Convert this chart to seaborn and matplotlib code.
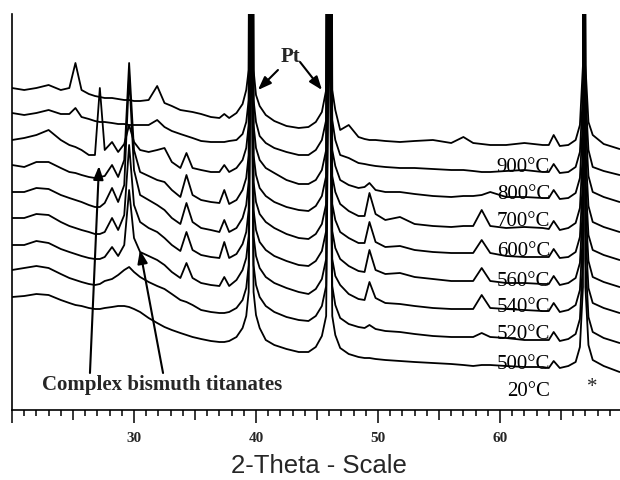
import numpy as np
import pandas as pd
import matplotlib
matplotlib.use("Agg")
import matplotlib.pyplot as plt
import seaborn as sns
from matplotlib.ticker import FixedLocator

# ---- data (stacked XRD traces, arbitrary units) ----
two_theta = [20.0, 21.0, 22.0, 23.0, 24.0, 24.7, 25.2, 25.7, 26.3, 26.8,
             27.2, 27.6, 28.2, 28.7, 29.2, 29.6, 30.0, 30.5, 31.2, 31.9,
             32.5, 33.1, 33.8, 34.3, 34.8, 35.5, 36.3, 37.0, 37.4, 37.8,
             38.4, 38.9, 39.2, 39.4, 39.6, 39.8, 40.0, 40.3, 40.8, 41.5,
             42.5, 43.5, 44.3, 44.9, 45.4, 45.75, 46.0, 46.25, 46.5, 46.9,
             47.6, 48.4, 48.9, 49.3, 49.8, 50.6, 51.8, 53.0, 54.5, 56.0,
             57.0, 57.8, 58.5, 59.2, 60.5, 62.0, 63.5, 64.0, 64.4, 64.9,
             65.6, 66.2, 66.55, 66.8, 66.9, 67.0, 67.25, 67.6, 68.5, 69.8]

temperatures = ["900°C", "800°C", "700°C", "600°C", "560°C",
                "540°C", "520°C", "500°C", "20°C"]

# Pt (39.6, 46.0) and substrate (66.9) reflections run off the top of the frame
i_900 = [322, 320, 322, 325, 320, 322, 347, 320, 316, 314,
         313, 312, 312, 311, 310, 310, 309, 309, 310, 324,
         307, 304, 300, 299, 298, 296, 293, 292, 296, 292,
         297, 306, 320, 340, 1500, 340, 315, 304, 295, 289,
         284, 282, 283, 288, 298, 320, 1500, 320, 300, 280,
         285, 273, 271, 270, 270, 269, 268, 269, 270, 267,
         273, 267, 266, 265, 265, 267, 265, 265, 275, 264,
         265, 270, 285, 345, 900, 345, 288, 275, 266, 261]
i_800 = [297, 295, 297, 300, 296, 296, 302, 293, 291, 289,
         288, 288, 287, 286, 286, 285, 285, 285, 285, 290,
         283, 279, 276, 274, 272, 269, 268, 268, 268, 269,
         270, 276, 288, 310, 1200, 310, 288, 274, 267, 262,
         258, 255, 255, 260, 270, 290, 1200, 290, 270, 255,
         252, 247, 246, 245, 244, 243, 242, 242, 241, 240,
         240, 239, 238, 238, 239, 240, 238, 238, 246, 237,
         238, 243, 258, 318, 900, 318, 260, 243, 239, 235]
i_700 = [270, 272, 275, 280, 270, 265, 263, 260, 255, 255,
         322, 260, 268, 258, 266, 285, 268, 260, 258, 260,
         262, 248, 242, 257, 242, 240, 238, 238, 245, 238,
         242, 250, 262, 285, 1000, 285, 262, 250, 242, 237,
         230, 226, 226, 230, 240, 260, 1000, 260, 244, 230,
         225, 222, 223, 227, 220, 218, 218, 216, 214, 213,
         214, 214, 215, 218, 213, 213, 212, 212, 220, 211,
         212, 217, 232, 292, 900, 292, 234, 218, 213, 208]
i_600 = [245, 243, 248, 248, 242, 238, 237, 235, 233, 232,
         233, 234, 245, 233, 250, 347, 260, 238, 234, 230,
         228, 220, 213, 235, 215, 210, 208, 207, 220, 206,
         210, 220, 232, 255, 800, 255, 235, 222, 214, 208,
         203, 200, 199, 204, 214, 234, 800, 234, 218, 206,
         199, 194, 194, 217, 196, 190, 193, 186, 184, 183,
         184, 184, 200, 184, 182, 183, 182, 181, 189, 180,
         182, 187, 202, 262, 900, 262, 204, 188, 183, 178]
i_560 = [218, 218, 222, 221, 215, 212, 210, 208, 205, 203,
         203, 207, 222, 208, 225, 335, 240, 215, 210, 205,
         200, 192, 186, 207, 188, 182, 180, 178, 190, 178,
         182, 192, 205, 228, 700, 228, 208, 196, 188, 182,
         176, 172, 171, 176, 186, 206, 700, 206, 190, 178,
         172, 167, 167, 188, 168, 163, 164, 160, 158, 157,
         157, 157, 170, 157, 154, 153, 153, 153, 161, 152,
         153, 158, 173, 233, 900, 233, 175, 160, 155, 150]
i_540 = [192, 192, 196, 195, 188, 184, 182, 180, 178, 176,
         176, 178, 192, 180, 195, 265, 205, 188, 182, 178,
         172, 165, 159, 178, 160, 155, 153, 152, 168, 152,
         156, 166, 178, 200, 600, 200, 180, 168, 160, 154,
         149, 145, 144, 149, 159, 179, 600, 179, 162, 151,
         144, 139, 138, 160, 140, 136, 137, 133, 131, 129,
         129, 129, 142, 129, 127, 127, 126, 126, 134, 125,
         127, 132, 147, 207, 900, 207, 149, 133, 128, 123]
i_520 = [165, 165, 169, 167, 161, 158, 156, 154, 152, 151,
         151, 153, 163, 154, 165, 220, 172, 158, 154, 150,
         145, 138, 132, 147, 132, 127, 125, 124, 133, 124,
         130, 140, 152, 174, 520, 174, 154, 142, 133, 127,
         122, 118, 116, 121, 131, 151, 520, 151, 134, 125,
         116, 111, 110, 128, 112, 107, 106, 104, 102, 101,
         101, 101, 115, 102, 101, 100, 99, 99, 107, 98,
         100, 105, 120, 180, 900, 180, 122, 107, 102, 97]
i_500 = [140, 142, 144, 142, 136, 132, 130, 128, 126, 125,
         126, 129, 131, 135, 140, 143, 138, 133, 128, 124,
         121, 116, 110, 108, 105, 100, 98, 97, 97, 98,
         102, 110, 122, 145, 470, 145, 125, 113, 104, 98,
         93, 90, 89, 94, 104, 124, 470, 124, 105, 92,
         86, 83, 82, 85, 81, 79, 78, 76, 74, 73,
         73, 73, 77, 73, 72, 70, 70, 70, 78, 69,
         71, 76, 91, 151, 900, 151, 93, 78, 72, 67]
i_20 = [113, 114, 116, 115, 110, 107, 105, 104, 102, 101,
        101, 102, 103, 104, 104, 103, 101, 98, 92, 87,
        83, 80, 77, 75, 73, 71, 69, 68, 68, 69,
        73, 82, 94, 118, 430, 118, 95, 82, 70, 65,
        61, 58, 58, 63, 74, 94, 430, 94, 75, 62,
        56, 53, 52, 52, 51, 50, 49, 48, 47, 46,
        45, 44, 45, 45, 44, 43, 43, 42, 49, 42,
        44, 48, 63, 123, 900, 123, 65, 50, 44, 38]

traces = [i_900, i_800, i_700, i_600, i_560, i_540, i_520, i_500, i_20]

tick_values = [20, 30, 40, 50, 60]
tick_labels = ["", "30", "40", "50", "60"]

# ---- build long-form table ----
df = pd.DataFrame({
    "two_theta": np.tile(two_theta, len(traces)),
    "intensity": np.concatenate(traces),
    "temperature": np.repeat(temperatures, len(two_theta)),
})

sns.set_style("ticks")
plt.rcParams["font.family"] = ["Liberation Serif", "DejaVu Serif"]

fig = plt.figure(figsize=(6.2, 4.8), dpi=100)
ax = fig.add_axes([12 / 620, 70 / 480, 608 / 620, 396 / 480])

sns.lineplot(data=df, x="two_theta", y="intensity", hue="temperature",
             hue_order=temperatures, palette=["black"] * len(temperatures),
             estimator=None, sort=False, legend=False, linewidth=1.3, ax=ax)

ax.set_xlim(20, 20 + 608 / 12.2)
ax.set_ylim(0, 396)
ax.set_xlabel("")
ax.set_ylabel("")
ax.set_yticks([])
for s in ["top", "right"]:
    ax.spines[s].set_visible(False)
for s in ["left", "bottom"]:
    ax.spines[s].set_color("black")
    ax.spines[s].set_linewidth(1.2)

ax.set_xticks(tick_values)
ax.set_xticklabels(tick_labels, fontsize=11, fontweight="bold")
ax.xaxis.set_minor_locator(FixedLocator([v for v in range(21, 70) if v % 5 != 0]))
ax.tick_params(axis="x", which="major", direction="out", length=9, width=1.1,
               pad=7, color="black", bottom=True)
ax.tick_params(axis="x", which="minor", direction="out", length=4.3, width=1.1,
               color="black", bottom=True)

sec = ax.secondary_xaxis("bottom")
sec.set_xticks([25, 35, 45, 55, 65])
sec.set_xticklabels([])
sec.tick_params(axis="x", direction="out", length=7, width=1.1, color="black", bottom=True)
sec.spines["bottom"].set_visible(False)

# temperature labels under each trace
for name, tr in zip(temperatures, traces):
    yv = np.interp(62.0, two_theta, tr) - 29
    ax.text(64.1, yv, name, ha="right", va="baseline", fontsize=15, color="black")

ax.text(67.54, 18, "*", ha="center", va="baseline", fontsize=15)

# Pt annotation
ax.text(42.8, 348, "Pt", ha="center", va="baseline", fontsize=15, fontweight="bold")
arrow = dict(arrowstyle="-|>,head_length=0.8,head_width=0.3", color="black",
             lw=1.5, shrinkA=0, shrinkB=0)
ax.annotate("", xy=(40.16, 320), xytext=(41.8, 340), arrowprops=arrow)
ax.annotate("", xy=(45.41, 320), xytext=(43.61, 348), arrowprops=arrow)

# Complex bismuth titanates annotation
ax.text(32.3, 20, "Complex bismuth titanates", ha="center", va="baseline",
        fontsize=15, fontweight="bold")
ax.annotate("", xy=(27.13, 244), xytext=(26.39, 37), arrowprops=arrow)
ax.annotate("", xy=(30.49, 160), xytext=(32.38, 37), arrowprops=arrow)

fig.text(318.5 / 620, 0.004, "2-Theta - Scale", ha="center", va="bottom",
         fontsize=18.5, family=["Liberation Sans", "DejaVu Sans"])

fig.savefig("out.png", dpi=100)
